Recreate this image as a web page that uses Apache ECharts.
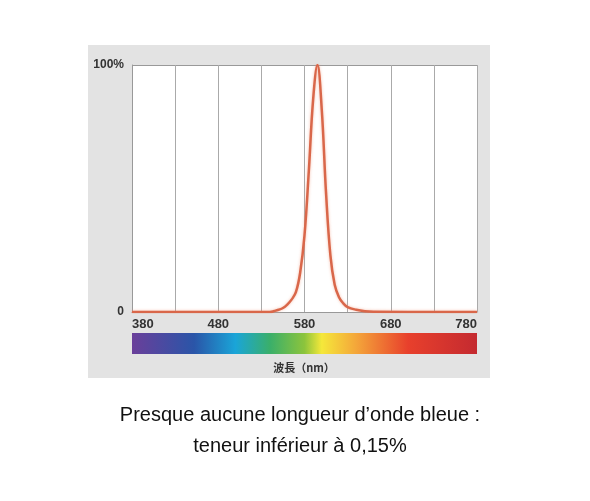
<!DOCTYPE html>
<html>
<head>
<meta charset="utf-8">
<script src="https://cdn.jsdelivr.net/npm/echarts@6/dist/echarts.min.js"></script>
<style>
  html, body { margin: 0; padding: 0; background: #fff; }
  #chart { width: 590px; height: 501px; }
</style>
</head>
<body>
<div id="chart"></div>
<script>
const wavelengths = [380, 540, 545, 550, 555, 560, 565, 570, 575, 580, 585, 590, 595, 600, 605, 610, 615, 620, 625, 630, 640, 650, 660, 780];
const intensity   = [0,   0,   0.4, 0.9, 1.6, 3,   5,   8,   16,  31,  57,  86,  100, 82,  48,  23,  11,  6,   3.5, 2,   0.9, 0.3, 0.1, 0];
const yTickLabels = { 0: '0', 100: '100%' };
const captionLines = ['Presque aucune longueur d’onde bleue :', 'teneur inférieur à 0,15%'];

const chart = echarts.init(document.getElementById('chart'));

chart.setOption({
  animation: false,
  grid: { left: 132, right: 113, top: 65, bottom: 189 },
  graphic: [
    { type: 'rect', z: -10, shape: { x: 88, y: 45, width: 402, height: 333 }, style: { fill: '#e3e3e3' } },
    { type: 'rect', z: -9, shape: { x: 132, y: 65, width: 345, height: 247 }, style: { fill: '#fff' } },
    {
      type: 'rect', shape: { x: 132, y: 333, width: 345, height: 21 },
      style: {
        fill: new echarts.graphic.LinearGradient(0, 0, 1, 0, [
          { offset: 0, color: '#6a3f9a' },
          { offset: 0.18, color: '#2a55a8' },
          { offset: 0.3, color: '#1aa5d8' },
          { offset: 0.4, color: '#3aaf6a' },
          { offset: 0.5, color: '#8cc43c' },
          { offset: 0.55, color: '#f5e83a' },
          { offset: 0.65, color: '#f4a63a' },
          { offset: 0.8, color: '#e8402c' },
          { offset: 1, color: '#c42a30' }
        ])
      }
    },
    { type: 'text', style: { x: 304, y: 368, text: '波長（nm）', font: 'bold 11px "Noto Sans CJK JP"', fill: '#333', align: 'center', verticalAlign: 'middle' } },
    { type: 'text', style: { x: 300, y: 415, text: captionLines[0], font: '20px Arial, "Liberation Sans"', fill: '#111', align: 'center', verticalAlign: 'middle' } },
    { type: 'text', style: { x: 300, y: 446, text: captionLines[1], font: '20px Arial, "Liberation Sans"', fill: '#111', align: 'center', verticalAlign: 'middle' } }
  ],
  xAxis: {
    type: 'value', min: 380, max: 780, interval: 50,
    axisLine: { show: true, lineStyle: { color: '#999', width: 1 } },
    axisTick: { show: false },
    splitLine: { show: true, lineStyle: { color: '#aaa', width: 1 } },
    axisLabel: {
      margin: 6, color: '#333', fontWeight: 'bold', fontSize: 13, fontFamily: 'Arial',
      alignMinLabel: 'left', alignMaxLabel: 'right',
      formatter: v => ((v - 380) % 100 === 0 ? String(v) : '')
    }
  },
  yAxis: {
    type: 'value', min: 0, max: 100, interval: 100,
    axisLine: { show: true, lineStyle: { color: '#999' } },
    axisTick: { show: false },
    splitLine: { show: true, lineStyle: { color: '#999' } },
    axisLabel: { margin: 8, color: '#333', fontWeight: 'bold', fontSize: 12, fontFamily: 'Arial', formatter: v => yTickLabels[v] }
  },
  series: [{
    type: 'line', smooth: 0.4, symbol: 'none',
    data: wavelengths.map((w, i) => [w, intensity[i]]),
    lineStyle: { color: '#d9674a', width: 2.5, shadowColor: 'rgba(240,150,120,0.6)', shadowBlur: 3 }
  }]
});
</script>
</body>
</html>
